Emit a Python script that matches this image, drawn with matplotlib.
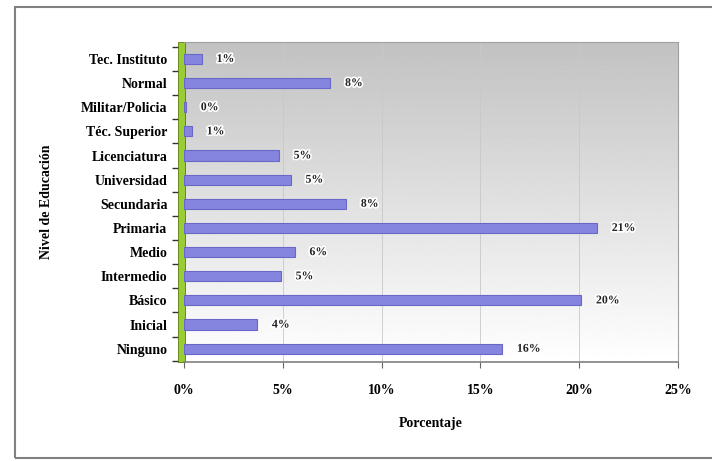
import numpy as np
import matplotlib.pyplot as plt
import matplotlib.patheffects as pe
from matplotlib.patches import Rectangle

categorias = ["Ninguno", "Inicial", "Básico", "Intermedio", "Medio", "Primaria",
              "Secundaria", "Universidad", "Licenciatura", "Téc. Superior",
              "Militar/Policia", "Normal", "Tec. Instituto"]
porcentajes = [16.1, 3.7, 20.1, 4.9, 5.6, 20.9, 8.2, 5.4, 4.8, 0.4, 0.1, 7.4, 0.9]
etiquetas = ["16%", "4%", "20%", "5%", "6%", "21%", "8%", "5%", "5%", "1%", "0%", "8%", "1%"]
x_ticks = [0, 5, 10, 15, 20, 25]

plt.rcParams['font.family'] = ['Liberation Serif', 'DejaVu Serif']

W, H = 712, 461
fig = plt.figure(figsize=(W / 100, H / 100), dpi=100)

# outer frame
fig.patches.append(Rectangle((15 / W, 1 - 458 / H), 1.2, (458 - 7) / H,
                             transform=fig.transFigure, fill=False,
                             edgecolor='#808080', linewidth=1.5))

left, right, top, bottom = 184, 678, 42, 362
ax = fig.add_axes([left / W, 1 - bottom / H, (right - left) / W, (bottom - top) / H])

# gradient background (gray at top, white at bottom)
grad = np.linspace(0.76, 1.0, 256).reshape(-1, 1)
ax.imshow(grad, extent=[0, 25, -0.55, 12.7], aspect='auto', cmap='gray',
          vmin=0, vmax=1, origin='upper', zorder=0)

y = np.arange(len(categorias))
ax.barh(y, porcentajes, height=0.42, color='#8585e0', edgecolor='#6868c8',
        linewidth=0.8, zorder=3)

for yi, v, t in zip(y, porcentajes, etiquetas):
    ax.text(v + 0.75, yi, t, va='center', ha='left', fontsize=8.5, fontweight='bold',
            color='#222222', zorder=4,
            path_effects=[pe.withStroke(linewidth=2.5, foreground='white')])

ax.set_xlim(0, 25)
ax.set_ylim(-0.55, 12.7)
ax.set_xticks(x_ticks)
ax.set_xticklabels([f"{t}%" for t in x_ticks], fontsize=10, fontweight='bold')
ax.set_yticks(y)
ax.set_yticklabels(categorias, fontsize=10, fontweight='bold')
ax.set_yticks(np.arange(len(categorias) + 1) - 0.5, minor=True)
ax.tick_params(axis='y', which='major', length=0, pad=12)
ax.tick_params(axis='y', which='minor', length=9, width=1.0, color='#333333',
               direction='out')
ax.tick_params(axis='x', length=4, color='#666666', pad=12)
ax.xaxis.grid(True, color='#c8c8c8', linewidth=0.6, zorder=1)

for s in ['top', 'right']:
    ax.spines[s].set_color('#a0a0a0')
    ax.spines[s].set_linewidth(0.8)
ax.spines['bottom'].set_color('#808080')
ax.spines['bottom'].set_linewidth(1.2)
ax.spines['left'].set_visible(False)

# green side wall
ax.add_patch(Rectangle((-0.012, 0), 0.014, 1, transform=ax.transAxes,
                       facecolor='#9acd32', edgecolor='#5a7a10', linewidth=0.6,
                       clip_on=False, zorder=2))

ax.set_xlabel("Porcentaje", fontsize=10, fontweight='bold', labelpad=14)
ax.set_ylabel("Nivel de Educación", fontsize=10, fontweight='bold', labelpad=20)

fig.savefig("out.png", dpi=100)
